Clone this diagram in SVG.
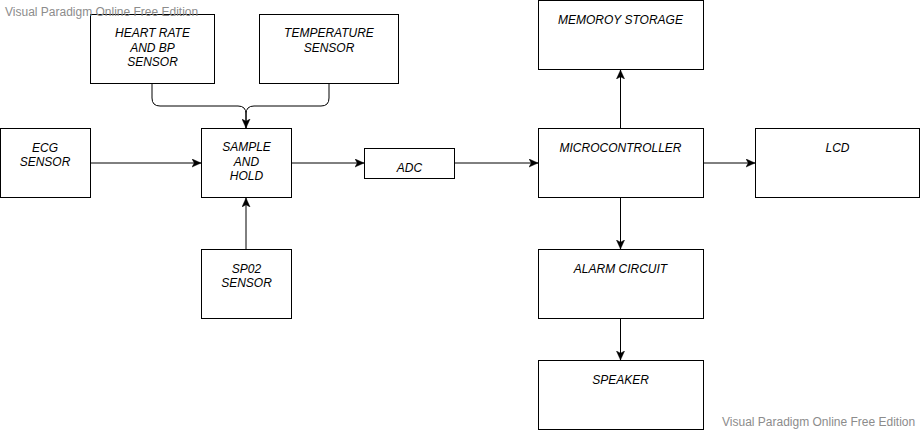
<svg xmlns="http://www.w3.org/2000/svg" width="920" height="431" viewBox="0 0 920 431">
<style>
.box{fill:#fff;stroke:#000;stroke-width:1}
.t{font-family:"Liberation Sans",Arial,Helvetica,sans-serif;font-size:12px;font-style:italic;fill:#000;text-anchor:middle}
.wm{font-family:"Liberation Sans",Arial,Helvetica,sans-serif;font-size:12px;fill:#8c8c8c}
.c{fill:none;stroke:#000;stroke-width:1}
</style>
<defs>
<marker id="ah" markerUnits="userSpaceOnUse" viewBox="0 0 10 10" refX="10" refY="5" markerWidth="9" markerHeight="9" orient="auto">
<path d="M0,0.5 L10,5 L0,9.5 L2.5,5 Z" fill="#000" stroke="#000" stroke-width="0.5"/>
</marker>
</defs>
<rect width="920" height="431" fill="#fff"/>
<g id="connectors">
<path class="c" d="M152,84 V98 Q152,106 160,106 H238 Q246,106 246,114 V128" marker-end="url(#ah)"/>
<path class="c" d="M329,84 V98 Q329,106 321,106 H254 Q246,106 246,114 V128"/>
<path class="c" d="M90,163 H201" marker-end="url(#ah)"/>
<path class="c" d="M291,163 H364" marker-end="url(#ah)"/>
<path class="c" d="M454,163 H538" marker-end="url(#ah)"/>
<path class="c" d="M703,163 H755" marker-end="url(#ah)"/>
<path class="c" d="M246,249 V198" marker-end="url(#ah)"/>
<path class="c" d="M620.5,128 V70" marker-end="url(#ah)"/>
<path class="c" d="M620.5,198 V249" marker-end="url(#ah)"/>
<path class="c" d="M620.5,319 V360" marker-end="url(#ah)"/>
</g>
<g id="heart">
<rect class="box" x="90.5" y="14.5" width="124" height="69"/>
<text class="t" x="152.5" y="37">HEART RATE</text>
<text class="t" x="152.5" y="51.5">AND BP</text>
<text class="t" x="152.5" y="66">SENSOR</text>
</g>
<g id="temp">
<rect class="box" x="259.5" y="14.5" width="139" height="69"/>
<text class="t" x="329" y="37">TEMPERATURE</text>
<text class="t" x="329" y="51.5">SENSOR</text>
</g>
<g id="ecg">
<rect class="box" x="0.5" y="128.5" width="90" height="69"/>
<text class="t" x="45" y="152">ECG</text>
<text class="t" x="45" y="166">SENSOR</text>
</g>
<g id="sample">
<rect class="box" x="201.5" y="128.5" width="90" height="69"/>
<text class="t" x="246.5" y="151">SAMPLE</text>
<text class="t" x="246.5" y="166">AND</text>
<text class="t" x="246.5" y="180">HOLD</text>
</g>
<g id="adc">
<rect class="box" x="364.5" y="148.5" width="90" height="30"/>
<text class="t" x="409.5" y="172">ADC</text>
</g>
<g id="sp02">
<rect class="box" x="201.5" y="249.5" width="90" height="69"/>
<text class="t" x="246.5" y="273">SP02</text>
<text class="t" x="246.5" y="287">SENSOR</text>
</g>
<g id="memory">
<rect class="box" x="538.5" y="0.5" width="165" height="69"/>
<text class="t" x="620.5" y="24">MEMOROY STORAGE</text>
</g>
<g id="micro">
<rect class="box" x="538.5" y="128.5" width="165" height="69"/>
<text class="t" x="620.5" y="152">MICROCONTROLLER</text>
</g>
<g id="lcd">
<rect class="box" x="755.5" y="128.5" width="164" height="69"/>
<text class="t" x="837.5" y="152">LCD</text>
</g>
<g id="alarm">
<rect class="box" x="538.5" y="249.5" width="165" height="69"/>
<text class="t" x="620.5" y="273">ALARM CIRCUIT</text>
</g>
<g id="speaker">
<rect class="box" x="538.5" y="360.5" width="165" height="69"/>
<text class="t" x="620.5" y="384">SPEAKER</text>
</g>
<text class="wm" x="5" y="16">Visual Paradigm Online Free Edition</text>
<text class="wm" x="722" y="426">Visual Paradigm Online Free Edition</text>
</svg>
